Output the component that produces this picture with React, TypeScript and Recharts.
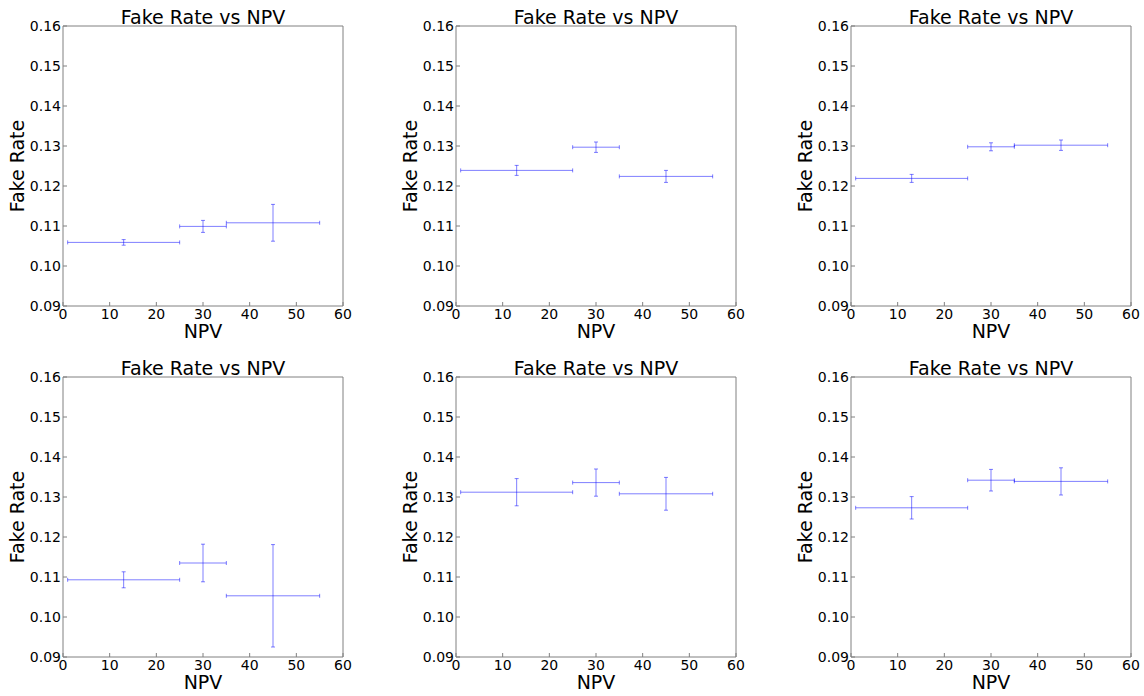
import { ScatterChart, Scatter, XAxis, YAxis, ErrorBar, Label } from 'recharts'

// bin centers and half widths (NPV)
const npvCenters = [13, 30, 45]
const npvHalfWidths = [12, 5, 10]

// fake rate per panel + errors
const rates1 = [0.1059, 0.1099, 0.1108]
const errs1 = [0.0007, 0.0015, 0.0046]
const rates2 = [0.1239, 0.1297, 0.1224]
const errs2 = [0.00125, 0.0013, 0.0015]
const rates3 = [0.1219, 0.1298, 0.1302]
const errs3 = [0.001, 0.001, 0.0013]
const rates4 = [0.1093, 0.1135, 0.1053]
const errs4 = [0.002, 0.0047, 0.0128]
const rates5 = [0.1312, 0.1336, 0.1308]
const errs5 = [0.0034, 0.0034, 0.0041]
const rates6 = [0.1273, 0.1342, 0.1339]
const errs6 = [0.0028, 0.0027, 0.0034]

const xTicks = [0, 10, 20, 30, 40, 50, 60]
const yTicks = [0.09, 0.1, 0.11, 0.12, 0.13, 0.14, 0.15, 0.16]

const AXIS = '#808080'
const BLUE = '#0000ff'

function Panel({ rates, errs, left, top }: { rates: number[]; errs: number[]; left: number; top: number }) {
  const data = npvCenters.map((x, i) => ({ npv: x, rate: rates[i], xErr: npvHalfWidths[i], yErr: errs[i] }))

  return (
    <div style={{ position: 'absolute', left, top }}>
      <ScatterChart width={380} height={350} margin={{ top: 25, right: 36, bottom: 12, left: 13 }}>
        {/* bottom axis with labels */}
        <XAxis
          dataKey="npv"
          type="number"
          domain={[0, 60]}
          ticks={xTicks}
          allowDataOverflow
          height={32}
          tickSize={-4}
          tickMargin={7}
          stroke={AXIS}
          tick={{ fill: '#000', fontSize: 14 }}
        >
          <Label value="NPV" position="insideBottom" offset={0} fill="#000" fontSize={19} />
        </XAxis>
        {/* top frame, ticks only */}
        <XAxis
          xAxisId="top"
          orientation="top"
          type="number"
          domain={[0, 60]}
          ticks={xTicks}
          allowDataOverflow
          height={1}
          tickSize={-4}
          tick={false}
          stroke={AXIS}
        >
          <Label value="Fake Rate vs NPV" position="top" offset={1} fill="#000" fontSize={19} />
        </XAxis>
        <YAxis
          dataKey="rate"
          type="number"
          domain={[0.09, 0.16]}
          ticks={yTicks}
          allowDataOverflow
          width={50}
          tickSize={-4}
          tickMargin={6}
          stroke={AXIS}
          tick={{ fill: '#000', fontSize: 14 }}
          tickFormatter={(v) => v.toFixed(2)}
        >
          <Label
            value="Fake Rate"
            angle={-90}
            position="insideLeft"
            offset={4}
            fill="#000"
            fontSize={19}
            style={{ textAnchor: 'middle' }}
          />
        </YAxis>
        {/* right frame, ticks only */}
        <YAxis
          yAxisId="right"
          orientation="right"
          type="number"
          domain={[0.09, 0.16]}
          ticks={yTicks}
          allowDataOverflow
          width={1}
          tickSize={-4}
          tick={false}
          stroke={AXIS}
        />
        <Scatter data={data} isAnimationActive={false} shape={() => <g />}>
          <ErrorBar dataKey="xErr" direction="x" width={2} stroke={BLUE} strokeOpacity={0.5} strokeWidth={1} />
          <ErrorBar dataKey="yErr" direction="y" width={2} stroke={BLUE} strokeOpacity={0.5} strokeWidth={1} />
        </Scatter>
      </ScatterChart>
    </div>
  )
}

export default function App() {
  return (
    <div
      style={{
        position: 'absolute',
        left: 0,
        top: 0,
        width: 1144,
        height: 696,
        background: '#fff',
        fontFamily: '"DejaVu Sans", sans-serif',
      }}
    >
      <Panel rates={rates1} errs={errs1} left={0} top={0} />
      <Panel rates={rates2} errs={errs2} left={393} top={0} />
      <Panel rates={rates3} errs={errs3} left={788} top={0} />
      <Panel rates={rates4} errs={errs4} left={0} top={351} />
      <Panel rates={rates5} errs={errs5} left={393} top={351} />
      <Panel rates={rates6} errs={errs6} left={788} top={351} />
    </div>
  )
}
